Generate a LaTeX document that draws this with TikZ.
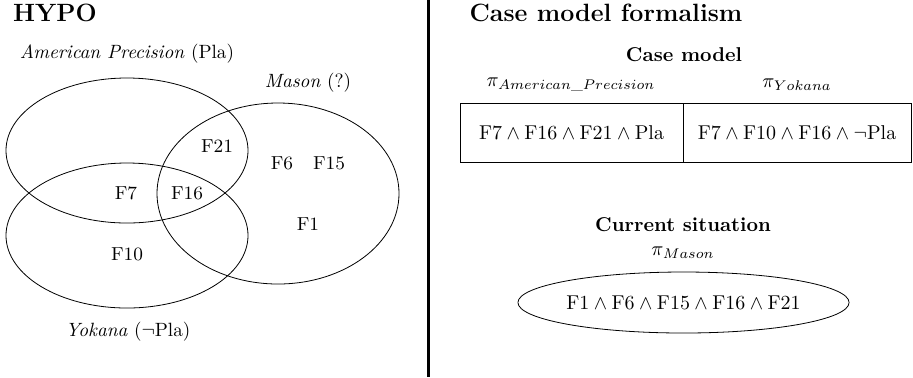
\documentclass[tikz,border=0pt]{standalone}
\usepackage{amsmath}
\usepackage{amssymb}
\usepackage{tikz}
\usetikzlibrary{shapes,positioning}
\newcommand{\fct}[1]{\mathrm{F#1}}
\tikzstyle{venn} = [ellipse, draw, inner sep=0pt, minimum width=121pt]
\tikzstyle{factor} = [font=\fontsize{9.4}{11}\selectfont]
\tikzstyle{casename} = [font=\fontsize{9.6}{11}\selectfont]
\tikzstyle{heading} = [font=\fontsize{12.5}{15}\selectfont\bfseries]
\tikzstyle{subheading} = [font=\bfseries]
\tikzstyle{cell} = [rectangle, draw, minimum height=29.5pt, inner sep=0pt, outer sep=0pt, font=\fontsize{10.4}{12}\selectfont]

\begin{document}
\begin{tikzpicture}[x=0.5pt, y=-0.5pt]
    \useasboundingbox (0,0) rectangle (913,377);

    % HYPO
    \node[heading] (hypo) at (55,13) {HYPO};
    \node[venn, minimum height=72.5pt] (precision) at (127,150.5) {};
    \node[venn, minimum height=72.5pt] (yokana) at (127,235.5) {};
    \node[venn, minimum height=90.5pt] (mason) at (278,193.5) {};
    \node[casename] (precisionname) at (127,54) {\textit{American Precision} (Pla)};
    \node[casename] (masonname) at (308,83) {\textit{Mason} (?)};
    \node[casename] (yokananame) at (128,332) {\textit{Yokana} ($\neg$Pla)};

    % factors
    \node[factor] (f21) at (217,146) {F21};
    \node[factor] (f6) at (282,163) {F6};
    \node[factor] (f15) at (329,163) {F15};
    \node[factor] (f7) at (126,193) {F7};
    \node[factor] (f16) at (187,193) {F16};
    \node[factor] (f1) at (308,224) {F1};
    \node[factor] (f10) at (127,254) {F10};

    % divider
    \draw[line width=1.5pt] (428,0) -- (428,377);

    % Case model formalism
    \node[heading] (formalism) at (606,13) {Case model formalism};
    \node[subheading] (casemodel) at (684,55) {Case model};
    \node (piprecision) at (571,85) {$\pi_{American\_Precision}$};
    \node (piyokana) at (797,85) {$\pi_{Yokana}$};
    \node[cell, minimum width=111.5pt] (precisioncell) at (571.5,132.5)
        {$\fct{7} \wedge \fct{16} \wedge \fct{21} \wedge \mathrm{Pla}$};
    \node[cell, minimum width=114pt, right=0pt of precisioncell] (yokanacell)
        {$\fct{7} \wedge \fct{10} \wedge \fct{16} \wedge \neg\mathrm{Pla}$};

    % Current situation
    \node[subheading] (current) at (683,225) {Current situation};
    \node (pimason) at (683,253) {$\pi_{Mason}$};
    \node[ellipse, draw, minimum width=151pt, minimum height=30.5pt, inner sep=0pt, font=\fontsize{10.4}{12}\selectfont] (situation) at (683.5,302.5)
        {$\fct{1} \wedge \fct{6} \wedge \fct{15} \wedge \fct{16} \wedge \fct{21}$};
\end{tikzpicture}
\end{document}
